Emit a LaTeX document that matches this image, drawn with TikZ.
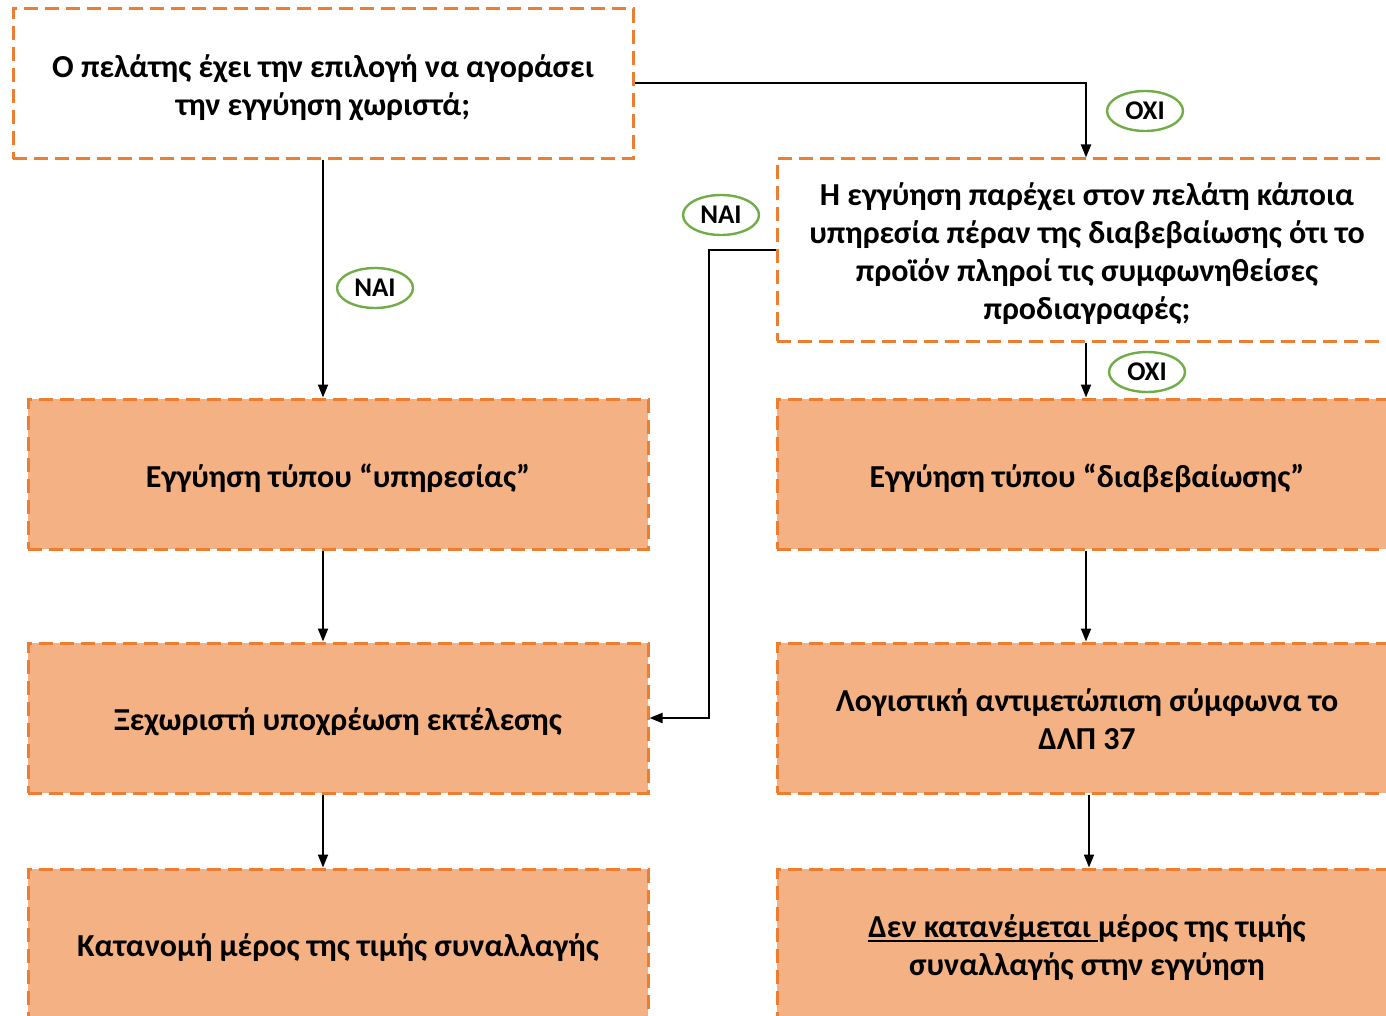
\documentclass[tikz,border=0pt]{standalone}
\usepackage{fontspec}
\setmainfont{Carlito}
\usetikzlibrary{arrows.meta,shapes.geometric}
\definecolor{boxorange}{HTML}{ED7D31}
\definecolor{boxfill}{HTML}{F4B183}
\definecolor{lblgreen}{HTML}{70AD47}
\newcommand\myul[1]{\setbox0\hbox{#1}\rlap{\rule[-4pt]{\wd0}{2.2pt}}\box0}
\begin{document}
\begin{tikzpicture}[x=1pt,y=-1pt,
  qbox/.style={draw=boxorange,line width=3pt,dash pattern=on 14pt off 7pt,fill=white,
    minimum width=620pt,inner sep=0pt},
  abox/.style={qbox,fill=boxfill,minimum height=150pt},
  txt/.style={align=center,inner sep=0pt,font=\fontsize{32}{38}\selectfont\bfseries},
  lbl/.style={ellipse,draw=lblgreen,line width=2.4pt,fill=white,minimum width=76pt,minimum height=40pt,inner sep=0pt,
    font=\fontsize{27}{30}\selectfont\bfseries},
  arr/.style={draw=black,line width=2pt,-{Triangle[length=13pt,width=10pt]}}]
\useasboundingbox (0,0) rectangle (1386,1016);
\fill[white] (0,0) rectangle (1386,1016);
\node[qbox,minimum height=150pt] (A) at (323,84) {};
\node[qbox,minimum height=182pt] (B) at (1087,250) {};
\node[abox] (L1) at (338,474) {};
\node[abox] (L2) at (338,718) {};
\node[abox] (L3) at (338,944) {};
\node[abox] (R1) at (1087,474) {};
\node[abox] (R2) at (1087,718) {};
\node[abox] (R3) at (1087,944) {};
\node[txt] (At) at ([yshift=-4pt]A.center) {Ο πελάτης έχει την επιλογή να αγοράσει\\την εγγύηση χωριστά;};
\node[txt] (Bt) at ([yshift=-4pt]B.center) {Η εγγύηση παρέχει στον πελάτη κάποια\\υπηρεσία πέραν της διαβεβαίωσης ότι το\\προϊόν πληροί τις συμφωνηθείσες\\προδιαγραφές;};
\node[txt] (L1t) at ([yshift=-4pt]L1.center) {Εγγύηση τύπου “υπηρεσίας”};
\node[txt] (L2t) at ([yshift=-4pt]L2.center) {Ξεχωριστή υποχρέωση εκτέλεσης};
\node[txt] (L3t) at ([yshift=-4pt]L3.center) {Κατανομή μέρος της τιμής συναλλαγής};
\node[txt] (R1t) at ([yshift=-4pt]R1.center) {Εγγύηση τύπου “διαβεβαίωσης”};
\node[txt] (R2t) at ([yshift=-1pt]R2.center) {Λογιστική αντιμετώπιση σύμφωνα το\\ΔΛΠ 37};
\node[txt] (R3t) at ([yshift=-4pt]R3.center) {\myul{Δεν κατανέμεται }μέρος της τιμής\\συναλλαγής στην εγγύηση};
\coordinate (c1) at (1086,83);
\coordinate (c2) at (709,250);
\coordinate (c3) at (709,718);
\draw[arr] (A.south -| 323,0) -- (L1.north -| 323,0);
\draw[arr] (A.east |- c1) -- (c1) -- (c1 |- B.north);
\draw[arr] (B.south -| 1086,0) -- (R1.north -| 1086,0);
\draw[arr] (B.west |- c2) -- (c2) -- (c3) -- (L2.east |- c3);
\draw[arr] (L1.south -| 323,0) -- (L2.north -| 323,0);
\draw[arr] (L2.south -| 323,0) -- (L3.north -| 323,0);
\draw[arr] (R1.south -| 1086,0) -- (R2.north -| 1086,0);
\draw[arr] (R2.south -| 1089,0) -- (R3.north -| 1089,0);
\node[lbl] (n1) at (375,288) {ΝΑΙ};
\node[lbl] (o1) at (1145,111) {ΟΧΙ};
\node[lbl] (n2) at (721,215) {ΝΑΙ};
\node[lbl] (o2) at (1147,372) {ΟΧΙ};
\end{tikzpicture}
\end{document}
